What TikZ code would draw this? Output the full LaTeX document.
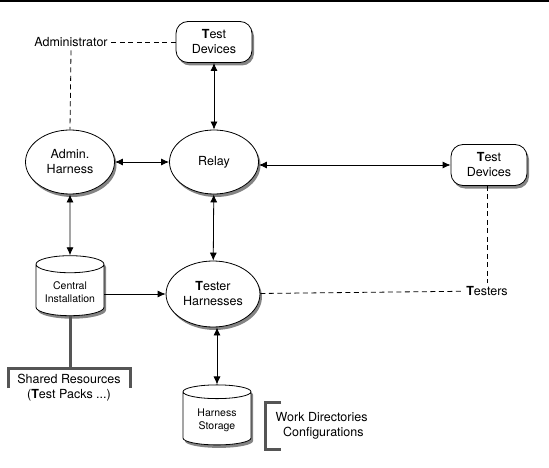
\documentclass[tikz,border=0pt]{standalone}
\usepackage{fontspec}
\setmainfont{TeX Gyre Heros}
\definecolor{brgray}{RGB}{85,85,85}
\definecolor{shgray}{RGB}{50,50,50}
\usepackage{tikz}
\usetikzlibrary{shapes.geometric,arrows.meta,shadows}

\begin{document}
\begin{tikzpicture}[x=1pt, y=-1pt, line width=0.8pt,
    shade/.style={drop shadow={shadow xshift=2pt, shadow yshift=-3pt, fill=shgray, opacity=0.6}},
    harness/.style={draw, ellipse, fill=white, shade, minimum width=89pt, minimum height=64pt,
        align=center, font=\fontsize{12.5}{15}\selectfont},
    device/.style={draw, rectangle, rounded corners=12pt, fill=white, shade, minimum width=76pt,
        minimum height=41pt, align=center, font=\fontsize{12.5}{15}\selectfont},
    store/.style={draw, cylinder, shape border rotate=90, aspect=0.3, fill=white, shade,
        minimum width=68pt, minimum height=60pt, align=center, font=\fontsize{10.5}{13}\selectfont},
    role/.style={font=\fontsize{12.5}{15}\selectfont, align=center},
    link/.style={{Latex[length=8pt,width=7pt]}-{Latex[length=8pt,width=7pt]}},
    role line/.style={dash pattern=on 5pt off 3.5pt},
    bracket/.style={brgray, line width=3pt}]

    \useasboundingbox (0,0) rectangle (549,468);
    \draw[line width=1.2pt] (0,1) -- (549,1);

    % Nodes
    \node[device] (tdtop) at (214,42) {\textbf{T}est\\Devices};
    \node[role] (admin) at (71,42) {Administrator};
    \node[harness] (adminh) at (70,162) {Admin.\\Harness};
    \node[harness] (relay) at (214,162) {Relay};
    \node[device] (tdright) at (489,165) {\textbf{T}est\\Devices};
    \node[store] (central) at (70,292) {Central\\Installation};
    \node[harness, minimum height=66pt] (tester) at (213,294) {\textbf{T}ester\\Harnesses};
    \node[role] (testers) at (487,291) {\textbf{T}esters};
    \node[store] (storage) at (217,420) {Harness\\Storage};
    \node[role] (shared) at (69,388) {Shared Resources\\(\textbf{T}est Packs ...)};
    \node[role, anchor=west] (work) at (272,426) {Work Directories\\\ Configurations};

    % Connections
    \draw[link] (adminh) -- (relay);
    \draw[link] (tdtop) -- (relay);
    \draw[link] (relay.east |- tdright.west) -- (tdright.west);
    \draw[link] (adminh) -- (central);
    \draw[-{Latex[length=8pt,width=7pt]}] (central.east |- tester.west) -- (tester.west);
    \draw[link] (relay) -- (tester);
    \draw[link] (tester.south -| storage.north) -- (storage.north);

    % Roles
    \draw[role line] (admin) -- (tdtop);
    \draw[role line] (admin.south) -- (adminh.north);
    \draw[role line] (tester) -- (testers);
    \draw[role line] (tdright.south -| testers.north) -- (testers.north);

    % Brackets
    \coordinate (sh) at (70,368);
    \draw[bracket] (central.bottom) -- (sh);
    \draw[bracket] (8,388) -- (8,368) -- (130,368) -- (130,388);
    \draw[bracket] (281,402) -- (265,402) -- (265,449) -- (281,449);
\end{tikzpicture}
\end{document}
